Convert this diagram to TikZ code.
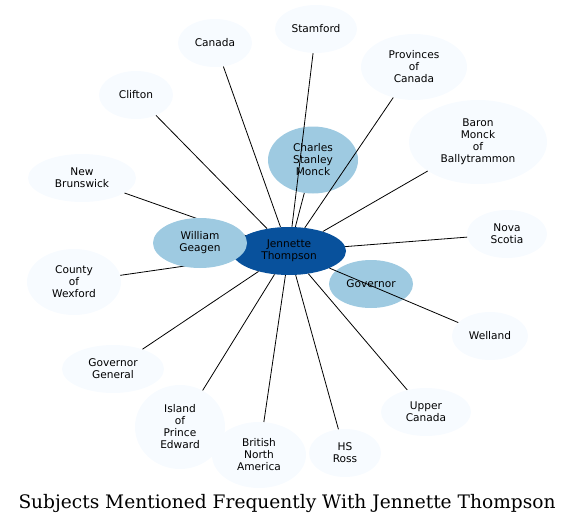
\documentclass[tikz,border=0pt]{standalone}
\usepackage{fontspec}
\setmainfont{DejaVu Sans}
\newfontfamily\titlefont{DejaVu Serif}
\usetikzlibrary{shapes.geometric}
\definecolor{cdark}{HTML}{08519C}
\definecolor{cmid}{HTML}{9ECAE1}
\definecolor{cpale}{HTML}{F7FBFF}
\tikzset{
  bub/.style={ellipse, inner sep=0pt, align=center, font=\fontsize{10.6}{12}\selectfont, text=black},
  pale/.style={bub, fill=cpale},
  mid/.style={bub, fill=cmid},
  dark/.style={bub, fill=cdark},
  link/.style={draw=black, line width=0.8pt},
}
\begin{document}
\begin{tikzpicture}[x=1pt,y=-1pt]
\useasboundingbox (0,0) rectangle (575,524);
% nodes behind the centre
\node[mid, minimum width=84pt, minimum height=48pt] (gov) at (371,284) {Governor};
\node[pale, minimum width=108pt, minimum height=48pt] (nb) at (82,178) {New\\Brunswick};
\node[pale, minimum width=94pt, minimum height=66pt] (wex) at (74,282) {County\\of\\Wexford};
\coordinate (cc) at (289,251);
\path[link] (cc) -- (nb);
\path[link] (cc) -- (wex);
\node[dark, minimum width=114pt, minimum height=48pt] (c) at (289,251) {Jennette\\Thompson};
\node[mid, minimum width=94pt, minimum height=50pt] (wg) at (200,243) {William\\Geagen};
\node[mid, minimum width=90pt, minimum height=67pt] (csm) at (313,160) {Charles\\Stanley\\Monck};
\node[pale, minimum width=74pt, minimum height=48pt] (can) at (215,43) {Canada};
\node[pale, minimum width=82pt, minimum height=48pt] (sta) at (316,29) {Stamford};
\node[pale, minimum width=106pt, minimum height=66pt] (poc) at (414,67) {Provinces\\of\\Canada};
\node[pale, minimum width=74pt, minimum height=48pt] (cli) at (136,95) {Clifton};
\node[pale, minimum width=138pt, minimum height=84pt] (bar) at (478,142) {Baron\\Monck\\of\\Ballytrammon};
\node[pale, minimum width=80pt, minimum height=48pt] (nov) at (507,234) {Nova\\Scotia};
\node[pale, minimum width=76pt, minimum height=48pt] (wel) at (490,336) {Welland};
\node[pale, minimum width=102pt, minimum height=48pt] (gg) at (113,369) {Governor\\General};
\node[pale, minimum width=90pt, minimum height=84pt] (ipe) at (180,427) {Island\\of\\Prince\\Edward};
\node[pale, minimum width=94pt, minimum height=66pt] (bna) at (259,455) {British\\North\\America};
\node[pale, minimum width=72pt, minimum height=48pt] (hs) at (345,453) {HS\\Ross};
\node[pale, minimum width=90pt, minimum height=48pt] (uc) at (426,412) {Upper\\Canada};
% connectors on top
\draw[link] (c) -- (can);
\draw[link] (c) -- (sta);
\draw[link] (c) -- (csm);
\draw[link] (c) -- (poc);
\draw[link] (c) -- (cli);
\draw[link] (c) -- (bar);
\draw[link] (c) -- (nov);
\draw[link] (c) -- (wel);
\draw[link] (c) -- (uc);
\draw[link] (c) -- (hs);
\draw[link] (c) -- (bna);
\draw[link] (c) -- (ipe);
\draw[link] (c) -- (gg);
\node[font=\titlefont\fontsize{18.6}{20}\selectfont, inner sep=0pt] (title) at (287,503) {Subjects Mentioned Frequently With Jennette Thompson};
\end{tikzpicture}
\end{document}
